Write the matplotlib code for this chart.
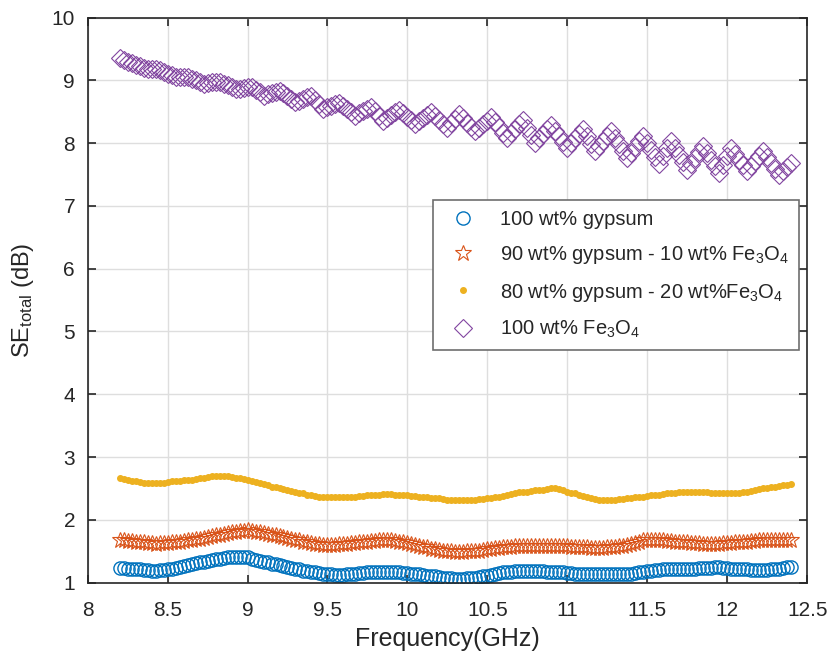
import numpy as np
import matplotlib
matplotlib.use('Agg')
import matplotlib.pyplot as plt

plt.rcParams['font.family'] = ['Liberation Sans', 'DejaVu Sans']
plt.rcParams['mathtext.default'] = 'regular'

# frequency sweep 8.2 - 12.4 GHz
freq = np.linspace(8.2, 12.4, 169)

labels = ['100 wt% gypsum',
          '90 wt% gypsum - 10 wt% Fe$_3$O$_4$',
          '80 wt% gypsum - 20 wt%Fe$_3$O$_4$',
          '100 wt% Fe$_3$O$_4$']

se_gypsum = [1.23, 1.23, 1.22, 1.22, 1.21, 1.21, 1.20, 1.20,
             1.19, 1.19, 1.20, 1.20, 1.21, 1.22, 1.23, 1.25,
             1.26, 1.28, 1.29, 1.31, 1.32, 1.33, 1.35, 1.36,
             1.37, 1.38, 1.39, 1.40, 1.41, 1.41, 1.41, 1.40,
             1.40, 1.38, 1.36, 1.35, 1.33, 1.32, 1.30, 1.29,
             1.28, 1.26, 1.25, 1.23, 1.22, 1.21, 1.19, 1.18,
             1.17, 1.16, 1.15, 1.14, 1.13, 1.13, 1.12, 1.12,
             1.12, 1.13, 1.14, 1.14, 1.15, 1.15, 1.16, 1.16,
             1.16, 1.17, 1.17, 1.17, 1.17, 1.16, 1.16, 1.15,
             1.15, 1.14, 1.13, 1.13, 1.12, 1.11, 1.10, 1.10,
             1.09, 1.08, 1.07, 1.07, 1.06, 1.06, 1.06, 1.07,
             1.07, 1.08, 1.09, 1.10, 1.11, 1.12, 1.14, 1.15,
             1.16, 1.17, 1.17, 1.18, 1.18, 1.18, 1.19, 1.19,
             1.19, 1.18, 1.18, 1.17, 1.17, 1.17, 1.16, 1.16,
             1.15, 1.15, 1.14, 1.14, 1.14, 1.14, 1.14, 1.14,
             1.14, 1.13, 1.13, 1.13, 1.13, 1.13, 1.14, 1.14,
             1.14, 1.15, 1.16, 1.17, 1.18, 1.19, 1.20, 1.20,
             1.21, 1.21, 1.22, 1.22, 1.22, 1.22, 1.22, 1.22,
             1.22, 1.23, 1.23, 1.23, 1.23, 1.24, 1.24, 1.23,
             1.23, 1.22, 1.22, 1.21, 1.21, 1.21, 1.20, 1.20,
             1.20, 1.20, 1.20, 1.21, 1.21, 1.22, 1.23, 1.24,
             1.25]

se_fe10 = [1.68, 1.67, 1.66, 1.66, 1.65, 1.64, 1.64, 1.63,
           1.63, 1.62, 1.63, 1.63, 1.63, 1.64, 1.64, 1.65,
           1.66, 1.67, 1.68, 1.69, 1.70, 1.71, 1.72, 1.74,
           1.75, 1.76, 1.77, 1.79, 1.80, 1.81, 1.82, 1.82,
           1.83, 1.82, 1.81, 1.80, 1.79, 1.78, 1.76, 1.75,
           1.74, 1.72, 1.71, 1.69, 1.68, 1.67, 1.65, 1.64,
           1.63, 1.62, 1.61, 1.60, 1.60, 1.60, 1.60, 1.61,
           1.61, 1.62, 1.63, 1.63, 1.64, 1.65, 1.65, 1.66,
           1.66, 1.67, 1.67, 1.67, 1.67, 1.66, 1.65, 1.64,
           1.63, 1.61, 1.60, 1.58, 1.57, 1.56, 1.54, 1.53,
           1.52, 1.51, 1.50, 1.50, 1.49, 1.49, 1.49, 1.50,
           1.50, 1.51, 1.51, 1.52, 1.53, 1.54, 1.55, 1.55,
           1.56, 1.57, 1.57, 1.58, 1.58, 1.58, 1.59, 1.59,
           1.59, 1.59, 1.59, 1.59, 1.59, 1.59, 1.58, 1.58,
           1.58, 1.57, 1.57, 1.56, 1.56, 1.56, 1.55, 1.55,
           1.55, 1.55, 1.56, 1.56, 1.57, 1.58, 1.59, 1.60,
           1.62, 1.63, 1.65, 1.67, 1.68, 1.68, 1.68, 1.67,
           1.67, 1.66, 1.66, 1.65, 1.65, 1.64, 1.64, 1.63,
           1.63, 1.63, 1.62, 1.62, 1.62, 1.62, 1.62, 1.63,
           1.63, 1.63, 1.64, 1.64, 1.65, 1.65, 1.66, 1.66,
           1.67, 1.67, 1.67, 1.67, 1.67, 1.67, 1.67, 1.67,
           1.67]

se_fe20 = [2.66, 2.65, 2.63, 2.62, 2.61, 2.60, 2.59, 2.58,
           2.58, 2.58, 2.59, 2.59, 2.60, 2.61, 2.61, 2.62,
           2.63, 2.64, 2.64, 2.65, 2.66, 2.67, 2.68, 2.69,
           2.70, 2.70, 2.69, 2.69, 2.68, 2.67, 2.66, 2.65,
           2.64, 2.62, 2.60, 2.59, 2.57, 2.55, 2.53, 2.52,
           2.50, 2.49, 2.47, 2.46, 2.45, 2.43, 2.42, 2.40,
           2.39, 2.38, 2.37, 2.37, 2.36, 2.36, 2.36, 2.36,
           2.36, 2.36, 2.37, 2.37, 2.38, 2.38, 2.39, 2.39,
           2.40, 2.40, 2.41, 2.41, 2.41, 2.40, 2.40, 2.39,
           2.39, 2.38, 2.38, 2.37, 2.37, 2.36, 2.35, 2.35,
           2.34, 2.33, 2.32, 2.32, 2.31, 2.31, 2.31, 2.32,
           2.32, 2.32, 2.33, 2.33, 2.34, 2.35, 2.36, 2.37,
           2.38, 2.40, 2.41, 2.43, 2.44, 2.45, 2.45, 2.46,
           2.47, 2.48, 2.48, 2.49, 2.50, 2.51, 2.49, 2.47,
           2.45, 2.43, 2.42, 2.40, 2.38, 2.36, 2.35, 2.33,
           2.32, 2.32, 2.32, 2.32, 2.32, 2.33, 2.33, 2.34,
           2.35, 2.36, 2.36, 2.37, 2.38, 2.39, 2.39, 2.40,
           2.41, 2.42, 2.42, 2.43, 2.44, 2.44, 2.45, 2.45,
           2.45, 2.45, 2.44, 2.44, 2.43, 2.43, 2.42, 2.42,
           2.42, 2.42, 2.43, 2.43, 2.44, 2.45, 2.46, 2.48,
           2.49, 2.50, 2.51, 2.52, 2.53, 2.54, 2.55, 2.56,
           2.57]

se_fe100 = [9.36, 9.33, 9.30, 9.28, 9.25, 9.23, 9.20, 9.19,
            9.19, 9.18, 9.17, 9.14, 9.11, 9.08, 9.05, 9.05,
            9.06, 9.06, 9.03, 9.00, 8.98, 8.95, 8.96, 8.97,
            8.97, 8.98, 8.95, 8.92, 8.89, 8.86, 8.87, 8.88,
            8.89, 8.90, 8.85, 8.81, 8.76, 8.78, 8.80, 8.82,
            8.84, 8.80, 8.75, 8.71, 8.66, 8.68, 8.71, 8.73,
            8.76, 8.69, 8.62, 8.55, 8.57, 8.60, 8.62, 8.64,
            8.59, 8.54, 8.49, 8.44, 8.48, 8.51, 8.55, 8.58,
            8.51, 8.43, 8.36, 8.40, 8.45, 8.49, 8.53, 8.48,
            8.42, 8.37, 8.31, 8.36, 8.40, 8.45, 8.49, 8.43,
            8.37, 8.30, 8.24, 8.32, 8.39, 8.47, 8.40, 8.33,
            8.26, 8.19, 8.25, 8.31, 8.36, 8.42, 8.34, 8.26,
            8.17, 8.09, 8.16, 8.23, 8.30, 8.37, 8.25, 8.13,
            8.01, 8.08, 8.15, 8.22, 8.29, 8.20, 8.11, 8.02,
            7.93, 8.00, 8.08, 8.15, 8.23, 8.11, 7.99, 7.87,
            7.95, 8.04, 8.12, 8.20, 8.09, 7.98, 7.87, 7.76,
            7.85, 7.94, 8.03, 8.12, 8.01, 7.89, 7.78, 7.67,
            7.79, 7.92, 8.04, 7.93, 7.81, 7.70, 7.58, 7.67,
            7.77, 7.86, 7.95, 7.84, 7.74, 7.63, 7.52, 7.65,
            7.79, 7.92, 7.83, 7.74, 7.65, 7.56, 7.64, 7.72,
            7.79, 7.87, 7.78, 7.68, 7.59, 7.49, 7.55, 7.62,
            7.68]

fig = plt.figure(figsize=(8.34, 6.56), dpi=100)
ax = fig.add_axes([0.105, 0.112, 0.863, 0.861])

ax.plot(freq, se_gypsum, 'o', color='#0072BD', mfc='none', ms=9.5, mew=1.0, label=labels[0])
ax.plot(freq, se_fe10, '*', color='#D95319', mfc='none', ms=12, mew=0.8, label=labels[1])
ax.plot(freq, se_fe20, '.', color='#EDB120', ms=8, label=labels[2])
ax.plot(freq, se_fe100, 'D', color='#8246A0', mfc='none', ms=9, mew=0.8, label=labels[3])

ax.set_xlim(8, 12.5)
ax.set_ylim(1, 10)
ax.set_xticks(np.arange(8, 12.51, 0.5))
ax.set_xticklabels(['8', '8.5', '9', '9.5', '10', '10.5', '11', '11.5', '12', '12.5'])
ax.set_yticks(np.arange(1, 11, 1))
ax.grid(True, color='#dedede', linewidth=1)
ax.set_axisbelow(True)
ax.tick_params(direction='in', length=6, width=1.2, top=True, right=True,
               labelsize=15, colors='#262626')
ax.tick_params(axis='x', pad=13)
ax.tick_params(axis='y', pad=9)
for s in ax.spines.values():
    s.set_linewidth(1.2)
    s.set_color('#262626')

ax.set_xlabel('Frequency(GHz)', fontsize=18, color='#262626', labelpad=5)
ax.set_ylabel('SE$_{total}$ (dB)', fontsize=17, color='#262626', labelpad=11)

leg = ax.legend(loc='upper left', bbox_to_anchor=(0.480, 0.6775), borderaxespad=0,
                fontsize=14.5, fancybox=False, edgecolor='#6e6e6e', framealpha=1,
                handlelength=2, handletextpad=0.8, labelspacing=0.76, borderpad=0.5)
leg.get_frame().set_linewidth(1.2)
for t in leg.get_texts():
    t.set_color('#262626')

plt.savefig('out.png', dpi=100)
